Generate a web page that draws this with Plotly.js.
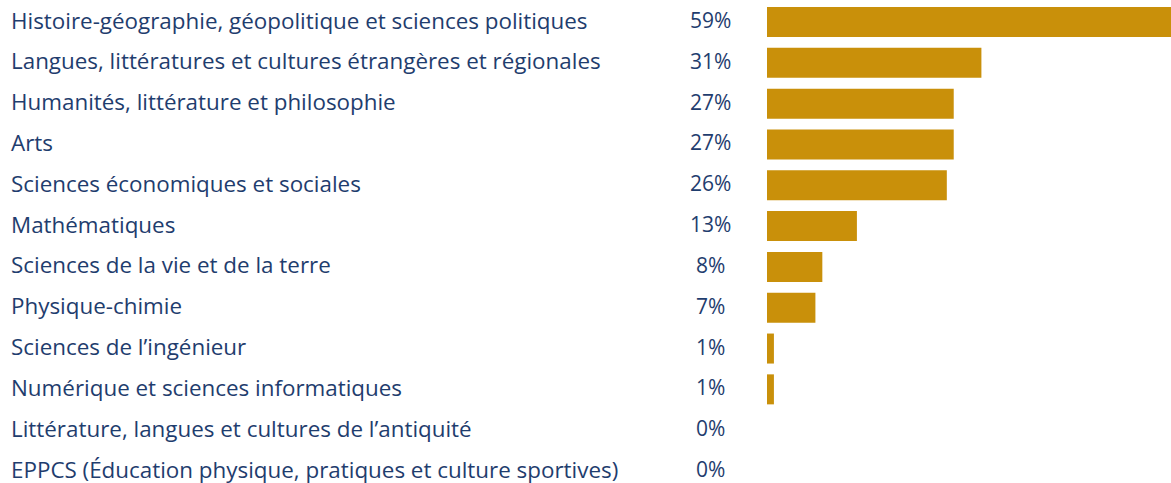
<!DOCTYPE html>
<html>
<head>
<meta charset="utf-8">
<script src="https://cdn.plot.ly/plotly-3.0.1.min.js"></script>
<style>html,body{margin:0;padding:0;background:#fff;}#chart{width:1171px;height:483px;}</style>
</head>
<body>
<div id="chart"></div>
<script>
const categories = [
  "Histoire-géographie, géopolitique et sciences politiques",
  "Langues, littératures et cultures étrangères et régionales",
  "Humanités, littérature et philosophie",
  "Arts",
  "Sciences économiques et sociales",
  "Mathématiques",
  "Sciences de la vie et de la terre",
  "Physique-chimie",
  "Sciences de l’ingénieur",
  "Numérique et sciences informatiques",
  "Littérature, langues et cultures de l’antiquité",
  "EPPCS (Éducation physique, pratiques et culture sportives)"
];
const values = [59, 31, 27, 27, 26, 13, 8, 7, 1, 1, 0, 0];
const valueLabels = values.map(v => v + "%");

const W = 1171, H = 483;
const textColor = "#1f3d6e";
const barColor = "#c9900a";
const fontFam = "'Open Sans', sans-serif";

const idx = categories.map((c, i) => i);

const trace = {
  type: "bar",
  orientation: "h",
  x: values,
  y: idx,
  width: 0.735,
  marker: {color: barColor},
  hoverinfo: "skip",
  cliponaxis: true
};

const annotations = [];
categories.forEach((c, i) => {
  annotations.push({
    text: c, xref: "paper", yref: "y", x: 10 / W, y: i,
    xanchor: "left", yanchor: "middle", showarrow: false, borderpad: 0, yshift: 2,
    font: {family: fontFam, size: 22.4, color: textColor}
  });
  annotations.push({
    text: valueLabels[i], xref: "paper", yref: "y", x: 710 / W, y: i,
    xanchor: "center", yanchor: "middle", showarrow: false, borderpad: 0, yshift: 2,
    font: {family: fontFam, size: 21, color: textColor}
  });
});

const layout = {
  width: W, height: H,
  margin: {l: 0, r: 0, t: 0, b: 0, pad: 0},
  paper_bgcolor: "#ffffff",
  plot_bgcolor: "rgba(0,0,0,0)",
  showlegend: false,
  xaxis: {
    domain: [767 / W, 1],
    range: [0, 404 / 6.916],
    visible: false, fixedrange: true
  },
  yaxis: {
    range: [11.294, -0.539],
    visible: false, fixedrange: true
  },
  annotations: annotations
};

Plotly.newPlot("chart", [trace], layout, {displayModeBar: false, staticPlot: true});
</script>
</body>
</html>
